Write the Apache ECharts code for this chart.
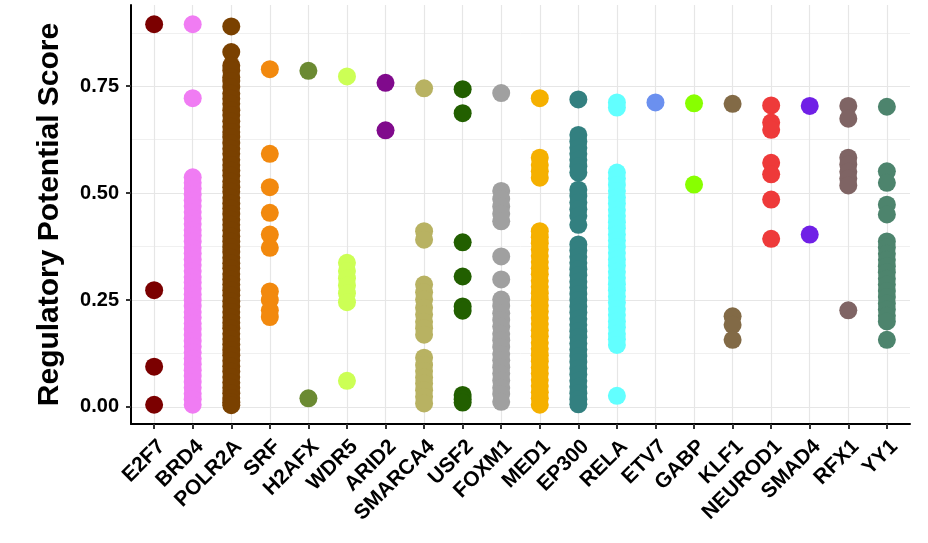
<!DOCTYPE html>
<html>
<head>
<meta charset="utf-8">
<script src="https://cdn.jsdelivr.net/npm/echarts@6/dist/echarts.min.js"></script>
<style>html,body{margin:0;padding:0;background:#fff;}#c{width:928px;height:543px;}</style>
</head>
<body>
<div id="c"></div>
<script>
const categories = ["E2F7","BRD4","POLR2A","SRF","H2AFX","WDR5","ARID2","SMARCA4","USF2","FOXM1","MED1","EP300","RELA","ETV7","GABP","KLF1","NEUROD1","SMAD4","RFX1","YY1"];
const yTicks = [0, 0.25, 0.5, 0.75];
const yMinorTicks = [0.125, 0.375, 0.625, 0.875];

const E2F7 = [0.895,0.273,0.094,0.005];
const BRD4 = [0.895,0.722,0.537,0.524,0.511,0.497,0.483,0.470,0.456,0.441,0.428,0.414,0.401,0.387,0.372,0.359,0.345,0.332,0.318,0.304,0.291,0.277,0.263,0.250,0.236,0.222,0.209,0.195,0.182,0.168,0.154,0.141,0.127,0.113,0.100,0.086,0.072,0.058,0.045,0.031,0.018,0.005];
const POLR2A = [0.890,0.830,0.798,0.787,0.771,0.762,0.748,0.733,0.721,0.709,0.694,0.683,0.668,0.655,0.643,0.631,0.617,0.604,0.592,0.578,0.566,0.553,0.541,0.527,0.514,0.503,0.489,0.476,0.464,0.451,0.438,0.426,0.413,0.399,0.387,0.374,0.362,0.349,0.336,0.324,0.311,0.298,0.286,0.273,0.261,0.247,0.235,0.222,0.209,0.197,0.184,0.171,0.159,0.146,0.133,0.121,0.108,0.095,0.083,0.070,0.057,0.045,0.032,0.021,0.011,0.004];
const SRF = [0.790,0.592,0.514,0.454,0.403,0.372,0.270,0.250,0.226,0.210];
const H2AFX = [0.786,0.020];
const WDR5 = [0.773,0.337,0.318,0.301,0.284,0.266,0.245,0.061];
const ARID2 = [0.758,0.647];
const SMARCA4 = [0.745,0.411,0.391,0.286,0.268,0.251,0.232,0.216,0.199,0.184,0.169,0.115,0.098,0.084,0.069,0.055,0.039,0.024,0.008];
const USF2 = [0.743,0.687,0.385,0.305,0.235,0.225,0.028,0.018,0.010];
const FOXM1 = [0.734,0.505,0.486,0.469,0.452,0.434,0.352,0.298,0.251,0.236,0.219,0.203,0.188,0.171,0.156,0.140,0.124,0.109,0.093,0.078,0.062,0.045,0.030,0.012];
const MED1 = [0.722,0.583,0.566,0.551,0.536,0.411,0.397,0.383,0.368,0.353,0.339,0.324,0.310,0.295,0.281,0.266,0.252,0.237,0.223,0.208,0.194,0.179,0.165,0.150,0.136,0.121,0.107,0.092,0.078,0.063,0.049,0.034,0.020,0.005];
const EP300 = [0.719,0.636,0.621,0.606,0.592,0.578,0.563,0.548,0.508,0.493,0.478,0.462,0.447,0.426,0.380,0.366,0.351,0.337,0.322,0.308,0.293,0.279,0.264,0.250,0.235,0.221,0.206,0.192,0.177,0.163,0.148,0.134,0.119,0.105,0.090,0.076,0.061,0.047,0.032,0.018,0.006];
const RELA = [0.712,0.700,0.548,0.534,0.519,0.505,0.490,0.476,0.461,0.447,0.432,0.418,0.403,0.389,0.374,0.360,0.345,0.331,0.316,0.302,0.287,0.273,0.258,0.244,0.229,0.215,0.200,0.186,0.171,0.158,0.145,0.026];
const ETV7 = [0.712];
const GABP = [0.710,0.520];
const KLF1 = [0.709,0.212,0.192,0.157];
const NEUROD1 = [0.705,0.665,0.648,0.571,0.544,0.485,0.393];
const SMAD4 = [0.704,0.403];
const RFX1 = [0.704,0.674,0.583,0.567,0.550,0.534,0.518,0.226];
const YY1 = [0.702,0.551,0.524,0.473,0.450,0.387,0.373,0.358,0.344,0.329,0.315,0.300,0.286,0.271,0.257,0.242,0.228,0.213,0.200,0.157];

const seriesValues = [E2F7,BRD4,POLR2A,SRF,H2AFX,WDR5,ARID2,SMARCA4,USF2,FOXM1,MED1,EP300,RELA,ETV7,GABP,KLF1,NEUROD1,SMAD4,RFX1,YY1];
const colors = ["#7b0000","#f07cf3","#7a4100","#f2890e","#6b8a32","#ccff55","#800a8c","#b8b262","#225f00","#a0a0a0","#f5b000","#338080","#62ffff","#6b90ef","#88ff00","#826a46","#ee3a3a","#7020e6","#7f6464","#4d846d"];

const font = "Liberation Sans, Arial, Helvetica, sans-serif";
const series = categories.map((name, i) => ({
  name: name,
  type: 'scatter',
  symbol: 'circle',
  symbolSize: 18,
  itemStyle: { color: colors[i], opacity: 1 },
  emphasis: { disabled: true },
  data: seriesValues[i].map(v => [i, v])
}));

const chart = echarts.init(document.getElementById('c'));
chart.setOption({
  animation: false,
  backgroundColor: '#ffffff',
  grid: { left: 131, right: 18, top: 5, bottom: 119, containLabel: false },
  xAxis: {
    type: 'value', min: -0.6, max: 19.6,
    axisLine: { show: true, onZero: false, lineStyle: { color: '#000', width: 2 } },
    axisTick: { show: true, length: 5, lineStyle: { color: '#333', width: 2 }, customValues: categories.map((c, i) => i) },
    axisLabel: {
      customValues: categories.map((c, i) => i),
      formatter: v => categories[Math.round(v)],
      rotate: 45, margin: 12, verticalAlign: 'top',
      fontFamily: font, fontWeight: 'bold', fontSize: 21, color: '#000'
    },
    splitLine: { show: true, lineStyle: { color: '#e6e6e6', width: 1.2 } }
  },
  yAxis: [{
    type: 'value', min: -0.04, max: 0.94,
    name: 'Regulatory Potential Score', nameLocation: 'middle', nameGap: 66,
    nameMoveOverlap: false,
    nameTextStyle: { fontFamily: font, fontWeight: 'bold', fontSize: 30, color: '#000' },
    axisLine: { show: true, onZero: false, lineStyle: { color: '#000', width: 2 } },
    axisTick: { show: true, length: 5, lineStyle: { color: '#333', width: 2 }, customValues: yTicks },
    axisLabel: {
      customValues: yTicks,
      formatter: v => v.toFixed(2),
      margin: 12,
      fontFamily: font, fontWeight: 'bold', fontSize: 20, color: '#000'
    },
    splitLine: { show: true, lineStyle: { color: '#e6e6e6', width: 1.2 } }
  }, {
    type: 'value', min: -0.04, max: 0.94, position: 'left',
    axisLine: { show: false, onZero: false },
    axisTick: { show: false, customValues: yMinorTicks },
    axisLabel: { show: false, customValues: yMinorTicks },
    splitLine: { show: true, lineStyle: { color: '#f0f0f0', width: 1 } }
  }],
  series: series
});
</script>
</body>
</html>
